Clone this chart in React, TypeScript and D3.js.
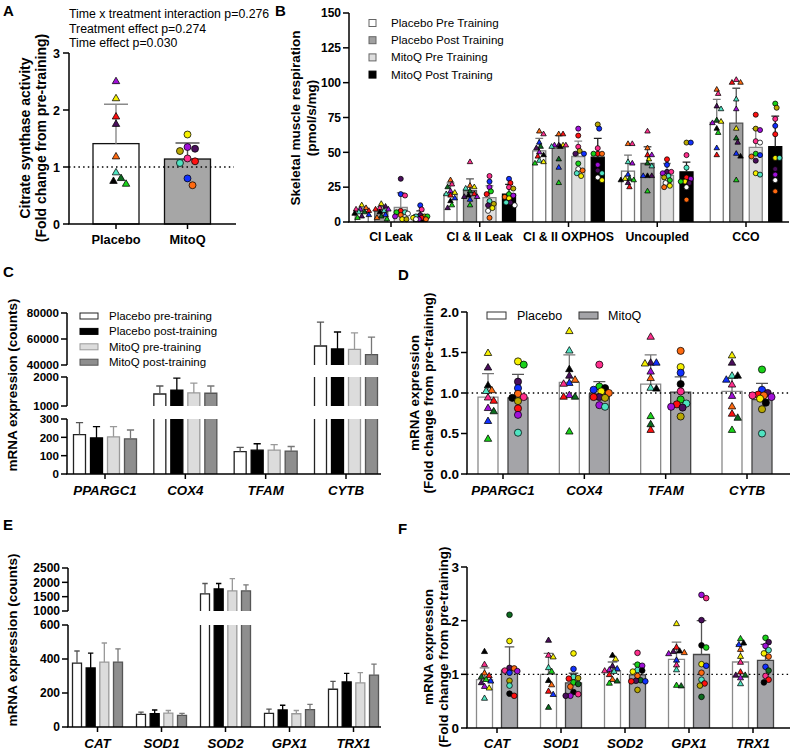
import React from "react";
import * as d3 from "d3";

const FONT = "'Liberation Sans', Arial, Helvetica, sans-serif";

// participant colours (order = participant index)
const PLACEBO_COLORS = ["#19d219", "#0c6b1f", "#4fe3c1", "#000000", "#ff6a10", "#ff1010", "#4a0e5c", "#f6f000", "#a010d8", "#1030ff", "#ff2e8c"];
const MITOQ_COLORS = ["#f6f000", "#b9a800", "#a010d8", "#4a0e5c", "#ff1010", "#ff2e8c", "#4fe3c1", "#ff6a10", "#1030ff", "#19d219", "#000000", "#ffffff", "#0c6b1f"];

// ---------------- Panel A ----------------
const A_GROUPS = ["Placebo", "MitoQ"];
const A_MEANS = [1.41, 1.14];
const A_ERR_TOP = [2.1, 1.42];
const A_PLACEBO_PTS = [0.7, 0.8, 0.9, 0.75, 1.18, 1.88, 1.75, 2.2, 2.5, null, null];
const A_MITOQ_PTS = [1.57, 1.28, 1.35, 1.32, 1.1, 1.15, 1.07, 0.68, 0.8, null, null, null, null];
const A_TICKS = [0, 1, 2, 3];
const A_NOTES = ["Time x treatment interaction p=0.276", "Treatment effect p=0.274", "Time effect p=0.030"];

// ---------------- Panel B ----------------
const B_GROUPS = ["CI Leak", "CI & II Leak", "CI & II OXPHOS", "Uncoupled", "CCO"];
const B_SERIES = ["Placebo Pre Training", "Placebo Post Training", "MitoQ Pre Training", "MitoQ Post Training"];
const B_TICKS = [0, 25, 50, 75, 100, 125, 150];
const B_MEANS_PLAC_PRE = [7.5, 20, 51, 36.5, 71.5];
const B_MEANS_PLAC_POST = [8, 22.5, 53, 42, 71];
const B_MEANS_MITO_PRE = [10.5, 17.5, 47, 33.5, 53.5];
const B_MEANS_MITO_POST = [5, 20, 46.5, 36, 54];
const B_ERR_PLAC_PRE = [10, 28, 60, 48, 88];
const B_ERR_PLAC_POST = [11, 31, 62, 54, 96];
const B_ERR_MITO_PRE = [21, 26, 58, 42, 67];
const B_ERR_MITO_POST = [8, 27, 60, 43, 76];
const B_PTS_PLAC_PRE = [
  [3, 7, 7, 6, 10, 8, 4, 12, 9, 5, 9],
  [12, 25, 20, 15, 30, 19, 10, 21, 22, 17, 27],
  [42, 54, 44, 48, 65, 47, 53, 43, 50, 57, 63],
  [30, 31, 43, 30, 56, 25, 28, 31, 42, 34, 56],
  [64, 73, 81, 67, 95, 48, 83, 72, 71, 53, 92],
];
const B_PTS_PLAC_POST = [
  [2, 4, 8, 7, 3, 9, 11, 13, 9, 5, 10],
  [12, 22, 24, 19, 26, 20, 18, 25, 18, 16, 43],
  [28, 45, 54, 54, 63, 63, 55, 55, 55, 39, 55],
  [22, 42, 40, 33, 53, 48, 33, 45, 48, 33, 65],
  [30, 60, 88, 47, 100, 100, 57, 67, 81, 49, 102],
];
const B_PTS_MITO_PRE = [
  [2, 2, 4, 31, 8, 19, 7, 5, 20, 7, null, 6, null],
  [10, 13, 25, 12, 20, 33, 15, 3, 29, 22, null, 8, null],
  [33, 51, 67, 49, 62, 54, 35, 37, 49, 42, null, 38, null],
  [26, 32, 35, 36, 45, 36, 33, 25, 41, 30, null, 28, null],
  [35, 67, 66, 44, 77, 58, 34, 47, 48, 49, null, 57, null],
];
const B_PTS_MITO_POST = [
  [3, 4, 2, 5, 3, 9, 4, 2, 12, 4, null, 2, null],
  [17, 24, 19, 14, 28, 25, 14, 18, 31, 20, null, 12, null],
  [30, 70, 41, 37, 49, 53, 35, 49, 67, 49, null, 32, null],
  [29, 57, 31, 28, 32, 48, 39, 16, 57, 29, null, 25, null],
  [46, 82, 34, 38, 63, 74, 46, 22, 69, 85, null, 30, null],
];

// ---------------- Panel C ----------------
const C_GROUPS = ["PPARGC1", "COX4", "TFAM", "CYTB"];
const CE_SERIES = ["Placebo pre-training", "Placebo post-training", "MitoQ pre-training", "MitoQ post-training"];
const C_MEANS_PLAC_PRE = [215, 1414, 122, 54600];
const C_MEANS_PLAC_POST = [197, 1550, 130, 52300];
const C_MEANS_MITO_PRE = [203, 1450, 130, 52000];
const C_MEANS_MITO_POST = [192, 1440, 125, 48000];
const C_ERR_PLAC_PRE = [280, 1690, 145, 73000];
const C_ERR_PLAC_POST = [258, 1960, 165, 65400];
const C_ERR_MITO_PRE = [258, 1790, 160, 64700];
const C_ERR_MITO_POST = [240, 1690, 150, 61500];
const C_TICKS_LOW = [0, 100, 200, 300];
const C_TICKS_MID = [1000, 2000];
const C_TICKS_HIGH = [40000, 60000, 80000];

// ---------------- Panel D ----------------
const D_GROUPS = ["PPARGC1", "COX4", "TFAM", "CYTB"];
const DF_SERIES = ["Placebo", "MitoQ"];
const D_TICKS = [0, 0.5, 1, 1.5, 2];
const D_MEANS_PLAC = [0.95, 1.13, 1.11, 1.02];
const D_MEANS_MITO = [0.94, 0.99, 1.01, 0.92];
const D_ERR_PLAC = [1.24, 1.47, 1.47, 1.18];
const D_ERR_MITO = [1.23, 1.14, 1.2, 1.12];
const D_PTS_PLAC = [
  [0.43, 0.77, 1.02, 1.09, 1.03, 0.9, 1.31, 1.49, 0.81, 0.65, 0.94],
  [0.52, 0.95, 1.52, 1.29, 1.16, 0.95, 1.21, 1.76, 0.97, 1.12, 1.11],
  [0.71, 0.61, 1.06, 1.05, 1.18, 0.54, 1.37, 1.36, 1.26, 1.37, 1.69],
  [0.54, 0.69, 1.21, 1.21, 0.83, 0.74, 1.37, 1.46, 0.96, 1.16, 1.1],
];
const D_PTS_MITO = [
  [1.39, 0.9, 0.73, 1.14, 0.81, 0.95, 0.51, 0.99, 1.06, 1.35, 0.94, null, null],
  [1.02, 0.94, 0.85, 0.95, 0.95, 1.35, 0.83, 1.0, 1.04, 1.08, 1.06, null, null],
  [1.32, 0.71, 0.83, 0.82, 0.86, 1.02, 0.87, 1.52, 1.25, 0.92, 1.11, null, null],
  [0.93, 0.8, 0.95, 1.0, 0.98, 0.97, 0.5, 0.97, 1.04, 1.29, 0.88, null, null],
];

// ---------------- Panel E ----------------
const E_GROUPS = ["CAT", "SOD1", "SOD2", "GPX1", "TRX1"];
const E_MEANS_PLAC_PRE = [376, 74, 1594, 80, 222];
const E_MEANS_PLAC_POST = [347, 78, 1770, 100, 265];
const E_MEANS_MITO_PRE = [382, 82, 1700, 78, 260];
const E_MEANS_MITO_POST = [382, 68, 1700, 102, 305];
const E_ERR_PLAC_PRE = [447, 87, 1960, 105, 268];
const E_ERR_PLAC_POST = [435, 100, 1960, 128, 316];
const E_ERR_MITO_PRE = [494, 97, 2130, 97, 320];
const E_ERR_MITO_POST = [459, 80, 1910, 133, 370];
const E_TICKS_LOW = [0, 200, 400, 600];
const E_TICKS_HIGH = [1000, 1500, 2000, 2500];

// ---------------- Panel F ----------------
const F_GROUPS = ["CAT", "SOD1", "SOD2", "GPX1", "TRX1"];
const F_TICKS = [0, 1, 2, 3];
const F_MEANS_PLAC = [0.9, 1.0, 1.06, 1.28, 1.23];
const F_MEANS_MITO = [1.08, 0.84, 0.99, 1.37, 1.26];
const F_ERR_PLAC = [1.12, 1.39, 1.23, 1.6, 1.55];
const F_ERR_MITO = [1.51, 1.02, 1.19, 2.0, 1.56];
const F_PTS_PLAC = [
  [0.9, 0.95, 0.55, 1.42, 1.02, 0.97, 0.84, 0.74, 0.77, 0.87, 1.18],
  [1.05, 0.38, 1.12, 0.88, 0.8, 0.68, 1.63, 1.32, null, 0.62, 1.35],
  [0.83, 0.87, 1.05, 1.35, 0.9, 0.99, 1.15, 1.28, 1.08, 1.1, 1.06],
  [0.79, 0.78, 1.08, 1.43, 1.4, 1.5, 1.42, 1.94, 1.38, 1.26, 1.17],
  [1.66, 0.98, 0.82, 1.58, 1.46, 1.04, 0.98, 1.33, 0.93, 1.55, 1.22],
];
const F_PTS_MITO = [
  [1.62, 0.88, 1.06, 1.12, 0.6, 1.07, 0.79, 1.11, 1.03, null, 0.64, null, 2.11],
  [1.39, 0.93, 0.6, 0.6, 0.92, 0.63, 0.95, 0.77, 1.1, 0.85, 0.67, null, 0.82],
  [1.05, 0.71, 1.16, 0.88, 0.87, 1.4, 1.08, 0.97, 0.87, 1.18, 1.07, null, 0.89],
  [1.19, 0.79, 2.48, 2.01, 0.83, 2.42, 0.9, 1.03, 1.16, 1.5, 1.54, null, 0.58],
  [1.39, null, 1.53, 1.6, 0.9, 0.97, 1.45, 1.33, 1.14, 1.68, 0.85, null, 1.07],
];

// ---------------- helpers ----------------
type Seg = { d: [number, number]; r: [number, number]; ticks: number[] };
type Marker = "tri" | "circle";
type Series = {
  key: string; fill: string; stroke: string; err: string;
  means: number[]; tops: number[];
  pts?: (number | null)[][]; marker?: Marker; palette?: string[];
};

// deterministic beeswarm: spreads points sideways within +-maxOff
function swarm(vals: (number | null)[], yf: (v: number) => number, cx: number, d: number, maxOff: number) {
  const items: { v: number; i: number; y: number }[] = [];
  vals.forEach((v, i) => { if (v != null) items.push({ v, i, y: yf(v) }); });
  items.sort((a, b) => b.v - a.v);
  const placed: { x: number; y: number; i: number }[] = [];
  const step = Math.max(1, d * 0.34);
  const cands: number[] = [0];
  for (let k = 1; k * step <= maxOff + 0.01; k++) { cands.push(k * step, -k * step); }
  for (const it of items) {
    let chosen = cx;
    let best = -1, bestX = cx;
    let found = false;
    for (const o of cands) {
      const x = cx + o;
      const md = placed.reduce((m, p) => Math.min(m, Math.hypot(p.x - x, p.y - it.y)), Infinity);
      if (md >= d) { chosen = x; found = true; break; }
      if (md > best) { best = md; bestX = x; }
    }
    if (!found) chosen = bestX;
    placed.push({ x: chosen, y: it.y, i: it.i });
  }
  return placed;
}

function symPath(m: Marker, size: number) {
  return d3.symbol().type(m === "tri" ? d3.symbolTriangle : d3.symbolCircle).size(size)() as string;
}

function Points(props: { vals: (number | null)[]; yf: (v: number) => number; cx: number; marker: Marker; size: number; d: number; maxOff: number; palette: string[]; k: string }) {
  const pl = swarm(props.vals, props.yf, props.cx, props.d, props.maxOff);
  const path = symPath(props.marker, props.size);
  return (
    <g>
      {pl.map((p) => (
        <path key={props.k + p.i} d={path} transform={`translate(${p.x},${p.y})`} fill={props.palette[p.i]} stroke="#000" strokeWidth={0.75} />
      ))}
    </g>
  );
}

type PanelProps = {
  id: string; groups: string[]; gRange: [number, number]; iRange: [number, number]; barW: number;
  segs: Seg[]; axisX: number; axisEnd: number; series: Series[];
  refLine?: number; tickFmt: (v: number) => string; tickFont: number;
  labelY: number; labelFont: number; italic?: boolean;
  msize?: { tri: number; circle: number; d: number; off: number };
};

function GroupPanel(p: PanelProps) {
  const gS = d3.scalePoint<string>().domain(p.groups).range(p.gRange);
  const iS = d3.scalePoint<string>().domain(p.series.map((s) => s.key)).range(p.iRange);
  const scales = p.segs.map((s) => d3.scaleLinear().domain(s.d).range(s.r));
  const segIdx = (v: number) => { let k = 0; p.segs.forEach((s, j) => { if (v >= s.d[0]) k = j; }); return k; };
  const y = (v: number) => scales[segIdx(v)](v);
  const baseY = p.segs[0].r[0];
  const bars: JSX.Element[] = [];
  const errs: JSX.Element[] = [];
  const pts: JSX.Element[] = [];
  p.series.forEach((s, si) => {
    p.groups.forEach((g, gi) => {
      const v = s.means[gi];
      const cx = (gS(g) as number) + (iS(s.key) as number);
      const x0 = cx - p.barW / 2, x1 = cx + p.barW / 2;
      p.segs.forEach((sg, j) => {
        if (j > 0 && v <= sg.d[0]) return;
        const top = Math.min(v, sg.d[1]);
        const yb = scales[j](sg.d[0]);
        const yt = scales[j](top);
        bars.push(<rect key={`${p.id}r${si}-${gi}-${j}`} x={x0} y={yt} width={p.barW} height={yb - yt} fill={s.fill} />);
        const d = v <= sg.d[1] ? `M${x0},${yb}V${yt}H${x1}V${yb}` : `M${x0},${yb}V${yt}M${x1},${yt}V${yb}`;
        bars.push(<path key={`${p.id}o${si}-${gi}-${j}`} d={d} fill="none" stroke={s.stroke} strokeWidth={1.3} />);
      });
      const k = segIdx(v);
      const yv = scales[k](v), ye = scales[k](s.tops[gi]);
      const cw = p.barW * 0.3;
      errs.push(<path key={`${p.id}e${si}-${gi}`} d={`M${cx},${yv}V${ye}M${cx - cw},${ye}H${cx + cw}`} stroke={s.err} strokeWidth={1.3} fill="none" />);
      if (s.pts && s.marker && s.palette && p.msize) {
        pts.push(
          <Points key={`${p.id}p${si}-${gi}`} k={`${p.id}p${si}-${gi}-`} vals={s.pts[gi]} yf={y} cx={cx} marker={s.marker}
            size={s.marker === "tri" ? p.msize.tri : p.msize.circle} d={p.msize.d} maxOff={p.msize.off} palette={s.palette} />
        );
      }
    });
  });
  return (
    <g>
      {bars}
      {errs}
      {p.refLine != null && (
        <line x1={p.axisX} x2={p.axisEnd} y1={y(p.refLine)} y2={y(p.refLine)} stroke="#000" strokeWidth={1.3} strokeDasharray="1.5,3.2" />
      )}
      {pts}
      {p.segs.map((s, j) => (
        <g key={`${p.id}ax${j}`}>
          <line x1={p.axisX} x2={p.axisX} y1={s.r[0]} y2={s.r[1]} stroke="#000" strokeWidth={1.5} />
          {s.ticks.map((t) => (
            <g key={`${p.id}t${j}-${t}`}>
              <line x1={p.axisX - 6} x2={p.axisX} y1={scales[j](t)} y2={scales[j](t)} stroke="#000" strokeWidth={1.5} />
              <text x={p.axisX - 8} y={scales[j](t)} dy="0.36em" textAnchor="end" fontSize={p.tickFont} fontWeight="bold" fontFamily={FONT}>
                {p.tickFmt(t)}
              </text>
            </g>
          ))}
        </g>
      ))}
      <line x1={p.axisX - 0.75} x2={p.axisEnd} y1={baseY} y2={baseY} stroke="#000" strokeWidth={1.5} />
      {p.groups.map((g) => (
        <g key={`${p.id}g${g}`}>
          <line x1={gS(g)} x2={gS(g)} y1={baseY} y2={baseY + 5} stroke="#000" strokeWidth={1.5} />
          <text x={gS(g)} y={p.labelY} textAnchor="middle" fontSize={p.labelFont} fontWeight="bold" fontStyle={p.italic ? "italic" : "normal"} fontFamily={FONT}>
            {g}
          </text>
        </g>
      ))}
    </g>
  );
}

function YLabel(props: { x: number; y: number; text: string; size: number }) {
  return (
    <text transform={`translate(${props.x},${props.y}) rotate(-90)`} textAnchor="middle" fontSize={props.size} fontWeight="bold" fontFamily={FONT}>
      {props.text}
    </text>
  );
}

function Letter(props: { x: number; y: number; t: string }) {
  return <text x={props.x} y={props.y} fontSize={15} fontWeight="bold" fontFamily={FONT}>{props.t}</text>;
}

export default function App() {
  // ---- A ----
  const aY = d3.scaleLinear().domain([0, 3]).range([224, 53]);
  const aX = d3.scalePoint<string>().domain(A_GROUPS).range([116, 187.5]);
  const aBarW = 46;
  const aFills = ["#ffffff", "#a6a6a6"];
  const aErr = ["#8a8a8a", "#555555"];
  const aPts = [A_PLACEBO_PTS, A_MITOQ_PTS];
  const aPal = [PLACEBO_COLORS, MITOQ_COLORS];
  const aMk: Marker[] = ["tri", "circle"];

  // ---- B ----
  const bStyle = [
    { fill: "#ffffff", stroke: "#777", err: "#777" },
    { fill: "#a0a0a0", stroke: "#555", err: "#555" },
    { fill: "#dedede", stroke: "#888", err: "#888" },
    { fill: "#000000", stroke: "#000", err: "#222" },
  ];
  const bMeans = [B_MEANS_PLAC_PRE, B_MEANS_PLAC_POST, B_MEANS_MITO_PRE, B_MEANS_MITO_POST];
  const bErr = [B_ERR_PLAC_PRE, B_ERR_PLAC_POST, B_ERR_MITO_PRE, B_ERR_MITO_POST];
  const bPts = [B_PTS_PLAC_PRE, B_PTS_PLAC_POST, B_PTS_MITO_PRE, B_PTS_MITO_POST];
  const bSeries: Series[] = B_SERIES.map((k, i) => ({
    key: k, ...bStyle[i], means: bMeans[i], tops: bErr[i], pts: bPts[i],
    marker: i < 2 ? "tri" : "circle", palette: i < 2 ? PLACEBO_COLORS : MITOQ_COLORS,
  }));

  // ---- C / E ----
  const ceStyle = [
    { fill: "#ffffff", stroke: "#222", err: "#555" },
    { fill: "#000000", stroke: "#000", err: "#000" },
    { fill: "#dcdcdc", stroke: "#999", err: "#999" },
    { fill: "#8e8e8e", stroke: "#555", err: "#777" },
  ];
  const cMeans = [C_MEANS_PLAC_PRE, C_MEANS_PLAC_POST, C_MEANS_MITO_PRE, C_MEANS_MITO_POST];
  const cErr = [C_ERR_PLAC_PRE, C_ERR_PLAC_POST, C_ERR_MITO_PRE, C_ERR_MITO_POST];
  const cSeries: Series[] = CE_SERIES.map((k, i) => ({ key: k, ...ceStyle[i], means: cMeans[i], tops: cErr[i] }));
  const eMeans = [E_MEANS_PLAC_PRE, E_MEANS_PLAC_POST, E_MEANS_MITO_PRE, E_MEANS_MITO_POST];
  const eErr = [E_ERR_PLAC_PRE, E_ERR_PLAC_POST, E_ERR_MITO_PRE, E_ERR_MITO_POST];
  const eSeries: Series[] = CE_SERIES.map((k, i) => ({ key: k, ...ceStyle[i], means: eMeans[i], tops: eErr[i] }));

  // ---- D / F ----
  const dfStyle = [
    { fill: "#ffffff", stroke: "#8a8a8a", err: "#777" },
    { fill: "#a4a4a8", stroke: "#444", err: "#555" },
  ];
  const dSeries: Series[] = DF_SERIES.map((k, i) => ({
    key: k, ...dfStyle[i], means: i === 0 ? D_MEANS_PLAC : D_MEANS_MITO, tops: i === 0 ? D_ERR_PLAC : D_ERR_MITO,
    pts: i === 0 ? D_PTS_PLAC : D_PTS_MITO, marker: i === 0 ? "tri" : "circle", palette: i === 0 ? PLACEBO_COLORS : MITOQ_COLORS,
  }));
  const fSeries: Series[] = DF_SERIES.map((k, i) => ({
    key: k, ...dfStyle[i], means: i === 0 ? F_MEANS_PLAC : F_MEANS_MITO, tops: i === 0 ? F_ERR_PLAC : F_ERR_MITO,
    pts: i === 0 ? F_PTS_PLAC : F_PTS_MITO, marker: i === 0 ? "tri" : "circle", palette: i === 0 ? PLACEBO_COLORS : MITOQ_COLORS,
  }));

  const fmtInt = d3.format("d");
  const fmt1 = d3.format(".1f");

  return (
    <svg width={790} height={751} style={{ position: "absolute", left: 0, top: 0, background: "#fff" }} fontFamily={FONT}>
      <rect width={790} height={751} fill="#fff" />

      {/* ================= A ================= */}
      <Letter x={3} y={16} t="A" />
      {A_NOTES.map((t, i) => (
        <text key={"n" + i} x={69} y={18 + i * 14.5} fontSize={12.3} fontFamily={FONT}>{t}</text>
      ))}
      {A_GROUPS.map((g, i) => {
        const cx = aX(g) as number;
        const yv = aY(A_MEANS[i]), ye = aY(A_ERR_TOP[i]);
        return (
          <g key={"ab" + g}>
            <rect x={cx - aBarW / 2} y={yv} width={aBarW} height={aY(0) - yv} fill={aFills[i]} stroke="#111" strokeWidth={1.3} />
            <path d={`M${cx},${yv}V${ye}M${cx - 12},${ye}H${cx + 12}`} stroke={aErr[i]} strokeWidth={1.4} fill="none" />
          </g>
        );
      })}
      <line x1={69} x2={234} y1={aY(1)} y2={aY(1)} stroke="#000" strokeWidth={1.3} strokeDasharray="1.5,3.2" />
      {A_GROUPS.map((g, i) => (
        <Points key={"ap" + g} k={"ap" + g} vals={aPts[i]} yf={aY} cx={aX(g) as number} marker={aMk[i]}
          size={aMk[i] === "tri" ? 24 : 38} d={7.4} maxOff={15} palette={aPal[i]} />
      ))}
      <line x1={69} x2={69} y1={aY(0)} y2={aY(3)} stroke="#000" strokeWidth={1.5} />
      {A_TICKS.map((t) => (
        <g key={"at" + t}>
          <line x1={63} x2={69} y1={aY(t)} y2={aY(t)} stroke="#000" strokeWidth={1.5} />
          <text x={60} y={aY(t)} dy="0.36em" textAnchor="end" fontSize={12.5} fontWeight="bold" fontFamily={FONT}>{fmtInt(t)}</text>
        </g>
      ))}
      <line x1={68.25} x2={236} y1={aY(0)} y2={aY(0)} stroke="#000" strokeWidth={1.5} />
      {A_GROUPS.map((g) => (
        <g key={"ax" + g}>
          <line x1={aX(g)} x2={aX(g)} y1={aY(0)} y2={aY(0) + 5} stroke="#000" strokeWidth={1.5} />
          <text x={aX(g)} y={244} textAnchor="middle" fontSize={12.8} fontWeight="bold" fontFamily={FONT}>{g}</text>
        </g>
      ))}
      <YLabel x={30} y={138} text="Citrate synthase activity" size={14} />
      <YLabel x={46} y={138} text="(Fold change from pre-training)" size={14} />

      {/* ================= B ================= */}
      <Letter x={275} y={16} t="B" />
      <GroupPanel id="B" groups={B_GROUPS} gRange={[391, 746]} iRange={[-29.25, 29.25]} barW={13}
        segs={[{ d: [0, 150], r: [222, 13], ticks: B_TICKS }]} axisX={349} axisEnd={789} series={bSeries}
        tickFmt={fmtInt} tickFont={12} labelY={241} labelFont={12.3} msize={{ tri: 13, circle: 20, d: 4.2, off: 7.5 }} />
      {B_SERIES.map((s, i) => (
        <g key={"bl" + i}>
          <rect x={369} y={19.5 + i * 17.2} width={7} height={7} fill={bStyle[i].fill} stroke={i === 3 ? "#000" : "#666"} strokeWidth={1} />
          <text x={391} y={27 + i * 17.2} fontSize={11.6} fontFamily={FONT}>{s}</text>
        </g>
      ))}
      <YLabel x={300} y={118} text="Skeletal muscle respiration" size={13.5} />
      <YLabel x={316} y={118} text="(pmol/s/mg)" size={13.5} />

      {/* ================= C ================= */}
      <Letter x={3} y={277} t="C" />
      <GroupPanel id="C" groups={C_GROUPS} gRange={[105, 346]} iRange={[-25.5, 25.5]} barW={12}
        segs={[
          { d: [0, 300], r: [474, 419], ticks: C_TICKS_LOW },
          { d: [1000, 2000], r: [406, 377], ticks: C_TICKS_MID },
          { d: [40000, 80000], r: [365, 313], ticks: C_TICKS_HIGH },
        ]}
        axisX={67} axisEnd={381} series={cSeries} tickFmt={fmtInt} tickFont={11.6} labelY={495} labelFont={13.3} italic />
      {CE_SERIES.map((s, i) => (
        <g key={"cl" + i}>
          <rect x={80} y={313 + i * 15.4} width={18} height={6} fill={ceStyle[i].fill} stroke={ceStyle[i].stroke} strokeWidth={1} />
          <text x={109} y={320 + i * 15.4} fontSize={11.5} fontFamily={FONT}>{s}</text>
        </g>
      ))}
      <YLabel x={17} y={385} text="mRNA expression (counts)" size={13.5} />

      {/* ================= D ================= */}
      <Letter x={398} y={280} t="D" />
      <GroupPanel id="D" groups={D_GROUPS} gRange={[503, 747]} iRange={[-15, 15]} barW={20}
        segs={[{ d: [0, 2], r: [474, 312], ticks: D_TICKS }]} axisX={467} axisEnd={790} series={dSeries}
        refLine={1} tickFmt={fmt1} tickFont={13.5} labelY={495} labelFont={13.3} italic msize={{ tri: 24, circle: 40, d: 5.6, off: 11 }} />
      {DF_SERIES.map((s, i) => (
        <g key={"dl" + i}>
          <rect x={487 + i * 92} y={312} width={19} height={7} fill={dfStyle[i].fill} stroke="#333" strokeWidth={1} />
          <text x={517 + i * 91} y={320} fontSize={12.5} fontFamily={FONT}>{s}</text>
        </g>
      ))}
      <YLabel x={419} y={393} text="mRNA expression" size={13.5} />
      <YLabel x={433} y={393} text="(Fold change from pre-training)" size={13.5} />

      {/* ================= E ================= */}
      <Letter x={3} y={530} t="E" />
      <GroupPanel id="E" groups={E_GROUPS} gRange={[97.5, 353.5]} iRange={[-20.5, 20.5]} barW={9}
        segs={[
          { d: [0, 600], r: [727, 625], ticks: E_TICKS_LOW },
          { d: [1000, 2500], r: [611, 568], ticks: E_TICKS_HIGH },
        ]}
        axisX={68} axisEnd={381} series={eSeries} tickFmt={fmtInt} tickFont={12} labelY={748} labelFont={13.3} italic />
      <YLabel x={17} y={640} text="mRNA expression (counts)" size={13.5} />

      {/* ================= F ================= */}
      <Letter x={398} y={534} t="F" />
      <GroupPanel id="F" groups={F_GROUPS} gRange={[497, 753]} iRange={[-12.5, 12.5]} barW={16}
        segs={[{ d: [0, 3], r: [728, 567], ticks: F_TICKS }]} axisX={467} axisEnd={790} series={fSeries}
        refLine={1} tickFmt={fmtInt} tickFont={13.5} labelY={748} labelFont={13.3} italic msize={{ tri: 16, circle: 25, d: 4.6, off: 9 }} />
      <YLabel x={433} y={647} text="mRNA expression" size={13.5} />
      <YLabel x={448} y={647} text="(Fold change from pre-training)" size={13.5} />
    </svg>
  );
}
